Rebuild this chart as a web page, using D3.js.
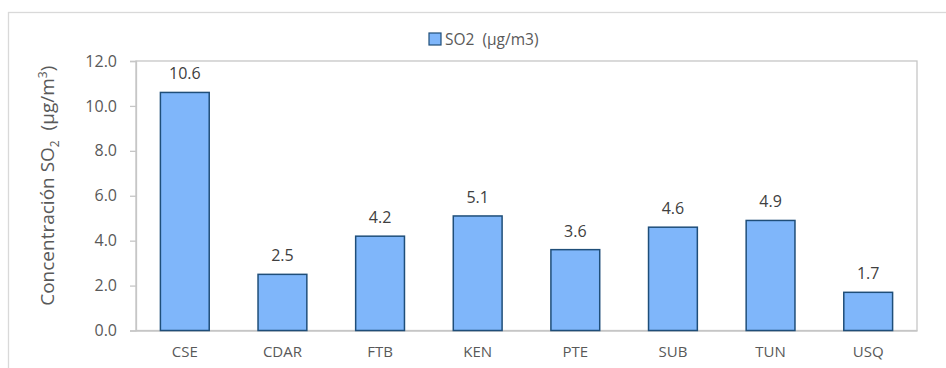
<!DOCTYPE html>
<html>
<head>
<meta charset="utf-8">
<script src="https://cdn.jsdelivr.net/npm/d3@7"></script>
<style>
  html, body { margin: 0; padding: 0; background: #fff; }
  svg { display: block; font-family: "Open Sans", "Liberation Sans", sans-serif; }
</style>
</head>
<body>
<svg id="chart" width="946" height="368"></svg>
<script>
// Mean SO2 concentration per monitoring station
const stations = ["CSE", "CDAR", "FTB", "KEN", "PTE", "SUB", "TUN", "USQ"];
const so2Values = [10.6, 2.5, 4.2, 5.1, 3.6, 4.6, 4.9, 1.7];
const yTicks = [0, 2, 4, 6, 8, 10, 12];
const seriesName = "SO2\u00a0\u00a0(µg/m3)";

const svg = d3.select("#chart");
const plot = { left: 136, right: 917, top: 61, bottom: 330.5 };

// Outer chart frame
svg.append("rect")
  .attr("x", 8.5).attr("y", 12.5)
  .attr("width", 960).attr("height", 400)
  .attr("fill", "#fff").attr("stroke", "#d9d9d9").attr("stroke-width", 1.3);

const x = d3.scaleBand()
  .domain(stations)
  .range([plot.left, plot.right])
  .paddingInner(0.5)
  .paddingOuter(0.25);

const y = d3.scaleLinear()
  .domain([0, 12])
  .range([plot.bottom, plot.top]);

// Plot area box
svg.append("rect")
  .attr("x", plot.left).attr("y", plot.top)
  .attr("width", plot.right - plot.left).attr("height", plot.bottom - plot.top)
  .attr("fill", "none").attr("stroke", "#c6c6c6").attr("stroke-width", 1.3);

// Y axis with outward ticks
const yAxis = svg.append("g")
  .attr("transform", `translate(${plot.left},0)`)
  .call(d3.axisLeft(y).tickValues(yTicks).tickFormat(d3.format(".1f")).tickSize(6).tickPadding(13));
yAxis.select(".domain").attr("stroke", "#c6c6c6").attr("stroke-width", 1.3);
yAxis.selectAll(".tick line").attr("stroke", "#c6c6c6").attr("stroke-width", 1.3);
yAxis.selectAll(".tick text")
  .attr("fill", "#595959").style("font-size", "16px").style("font-family", "'Open Sans', sans-serif");

// X axis labels
const xAxis = svg.append("g")
  .attr("transform", `translate(0,${plot.bottom})`)
  .call(d3.axisBottom(x).tickSize(0).tickPadding(16));
xAxis.select(".domain").attr("stroke", "#c6c6c6").attr("stroke-width", 1.3);
xAxis.selectAll(".tick text")
  .attr("fill", "#595959").style("font-size", "15px").style("font-family", "'Open Sans', sans-serif");

// Bars
svg.append("g").selectAll("rect")
  .data(stations)
  .join("rect")
  .attr("x", (d) => x(d))
  .attr("y", (d, i) => y(so2Values[i]))
  .attr("width", x.bandwidth())
  .attr("height", (d, i) => y(0) - y(so2Values[i]))
  .attr("fill", "#7fb6fa")
  .attr("stroke", "#1f4e79")
  .attr("stroke-width", 1.5);

// Value labels above bars
svg.append("g").selectAll("text")
  .data(stations)
  .join("text")
  .attr("x", (d) => x(d) + x.bandwidth() / 2)
  .attr("y", (d, i) => y(so2Values[i]) - 13)
  .attr("text-anchor", "middle")
  .attr("fill", "#404040")
  .style("font-size", "16px")
  .text((d, i) => so2Values[i].toFixed(1));

// Y axis title
const yTitle = svg.append("text")
  .attr("transform", `translate(54,${(plot.top + plot.bottom) / 2 - 10}) rotate(-90)`)
  .attr("text-anchor", "middle")
  .attr("fill", "#595959")
  .style("font-size", "19px");
yTitle.append("tspan").text("Concentración SO");
yTitle.append("tspan").attr("dy", 5).style("font-size", "12px").text("2");
yTitle.append("tspan").attr("dy", -5).text("\u00a0\u00a0(µg/m");
yTitle.append("tspan").attr("dy", -7).style("font-size", "12px").text("3");
yTitle.append("tspan").attr("dy", 7).text(")");

// Legend
const legend = svg.append("g").attr("transform", "translate(429,33)");
legend.append("rect")
  .attr("width", 12).attr("height", 12)
  .attr("fill", "#7fb6fa").attr("stroke", "#1f4e79").attr("stroke-width", 1.2);
legend.append("text")
  .attr("x", 16).attr("y", 12)
  .attr("fill", "#595959")
  .style("font-size", "15.5px")
  .text(seriesName);
</script>
</body>
</html>
